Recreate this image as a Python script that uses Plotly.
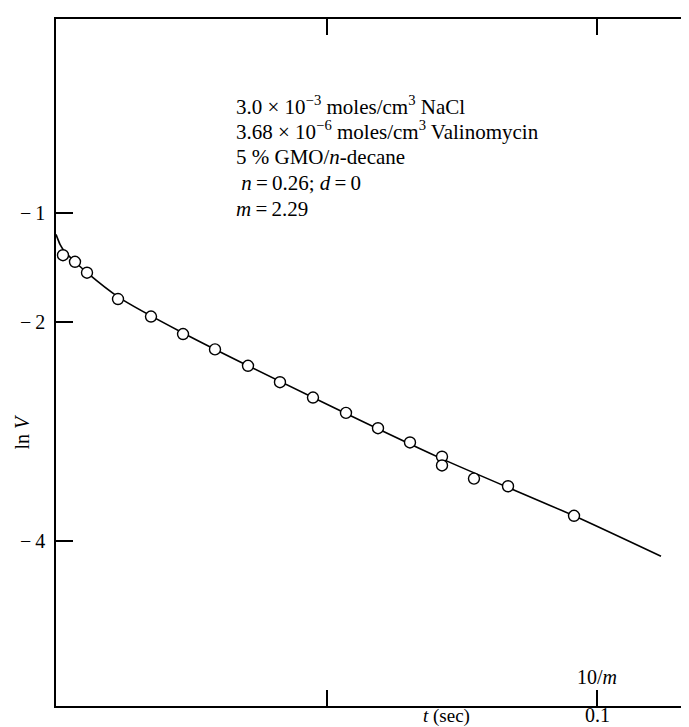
import plotly.graph_objects as go

# measured points: time (s) and ln V
t_pts = [0.00129, 0.00351, 0.00573, 0.01146, 0.01756, 0.02348, 0.02939, 0.03549,
         0.04140, 0.04750, 0.05360, 0.05952, 0.06543, 0.07135, 0.07135, 0.07726,
         0.08355, 0.09575]
lnv_pts = [-1.39, -1.45, -1.55, -1.79, -1.95, -2.11, -2.25, -2.40,
           -2.55, -2.69, -2.83, -2.97, -3.10, -3.23, -3.31, -3.43,
           -3.50, -3.77]

# theoretical curve
t_fit = [0.0, 0.00074, 0.00166, 0.00351, 0.00573, 0.01146, 0.02348, 0.04750,
         0.07135, 0.09575, 0.11183]
lnv_fit = [-1.20, -1.29, -1.36, -1.45, -1.55, -1.77, -2.10, -2.69,
           -3.25, -3.77, -4.14]

x_tickvals = [0.05, 0.1]
y_tickvals = [-1, -2, -4]
y_ticktext = ["\u2212\u20091", "\u2212\u20092", "\u2212\u20094"]
right_ticks = [-2, -4]

info_lines = [
    "3.0 \u00d7 10<sup>\u22123</sup> moles/cm<sup>3</sup> NaCl",
    "3.68 \u00d7 10<sup>\u22126</sup> moles/cm<sup>3</sup> Valinomycin",
    "5 % GMO/<i>n</i>-decane",
    " <i>n</i>\u2009=\u20090.26; <i>d</i>\u2009=\u20090",
    "<i>m</i>\u2009=\u20092.29",
]

FONT = "Liberation Serif"

# pixel layout helpers (plot area 48..689 x 11..698)
PL, PR, PT, PB = 48, 689, 11, 698
XR = [0, (PR - PL) / 5410]
YR = [-4 - (PB - 533) / 109.5, -1 + (204.5 - PT) / 109.5]


def py(p):
    return (PB - p) / (PB - PT)


def px(p):
    return (p - PL) / (PR - PL)


fig = go.Figure()
fig.add_trace(go.Scatter(x=t_fit, y=lnv_fit, mode="lines",
                         line=dict(color="black", width=1.6, shape="spline", smoothing=0.6),
                         hoverinfo="skip"))
fig.add_trace(go.Scatter(x=t_pts, y=lnv_pts, mode="markers",
                         marker=dict(size=11, color="white",
                                     line=dict(color="black", width=1.4))))

fig.update_layout(
    width=689, height=727,
    margin=dict(l=PL, r=0, t=PT, b=727 - PB),
    paper_bgcolor="white", plot_bgcolor="white",
    showlegend=False,
    font=dict(family=FONT, color="black", size=20),
    xaxis=dict(range=XR, showgrid=False, zeroline=False,
               showline=True, linecolor="black", linewidth=2, mirror="ticks",
               ticks="inside", ticklen=16, tickwidth=2, tickcolor="black",
               tickvals=x_tickvals, showticklabels=False),
    yaxis=dict(range=YR, showgrid=False, zeroline=False,
               showline=True, linecolor="black", linewidth=2,
               ticks="inside", ticklen=17, tickwidth=1.5, tickcolor="black",
               tickvals=y_tickvals, showticklabels=False),
)

for v in right_ticks:
    fig.add_shape(type="line", xref="paper", yref="y", x0=0.985, x1=1.0, y0=v, y1=v,
                  line=dict(color="black", width=1.5))

for v, lab in zip(y_tickvals, y_ticktext):
    fig.add_annotation(x=px(39), y=v, xref="paper", yref="y", text=lab,
                       showarrow=False, xanchor="right", yanchor="middle",
                       font=dict(family=FONT, size=20))

for i, txt in enumerate(info_lines):
    fig.add_annotation(x=px(226), y=py(97 + i * 26), xref="paper", yref="paper",
                       text=txt, showarrow=False, xanchor="left", yanchor="middle",
                       font=dict(family=FONT, size=21))

fig.add_annotation(x=0.1, y=py(669), xref="x", yref="paper",
                   text="10/<i>m</i>", showarrow=False, xanchor="center", yanchor="middle",
                   font=dict(family=FONT, size=20))
fig.add_annotation(x=0.1, y=py(707), xref="x", yref="paper",
                   text="0.1", showarrow=False, xanchor="center", yanchor="middle",
                   font=dict(family=FONT, size=20))
fig.add_annotation(x=px(438), y=py(708), xref="paper", yref="paper",
                   text="<i>t</i> (sec)", showarrow=False, xanchor="center", yanchor="middle",
                   font=dict(family=FONT, size=19))
fig.add_annotation(x=px(13), y=-3, xref="paper", yref="y",
                   text="ln <i>V</i>", showarrow=False, textangle=-90,
                   xanchor="center", yanchor="middle",
                   font=dict(family=FONT, size=20))

fig.write_html("out.html")
